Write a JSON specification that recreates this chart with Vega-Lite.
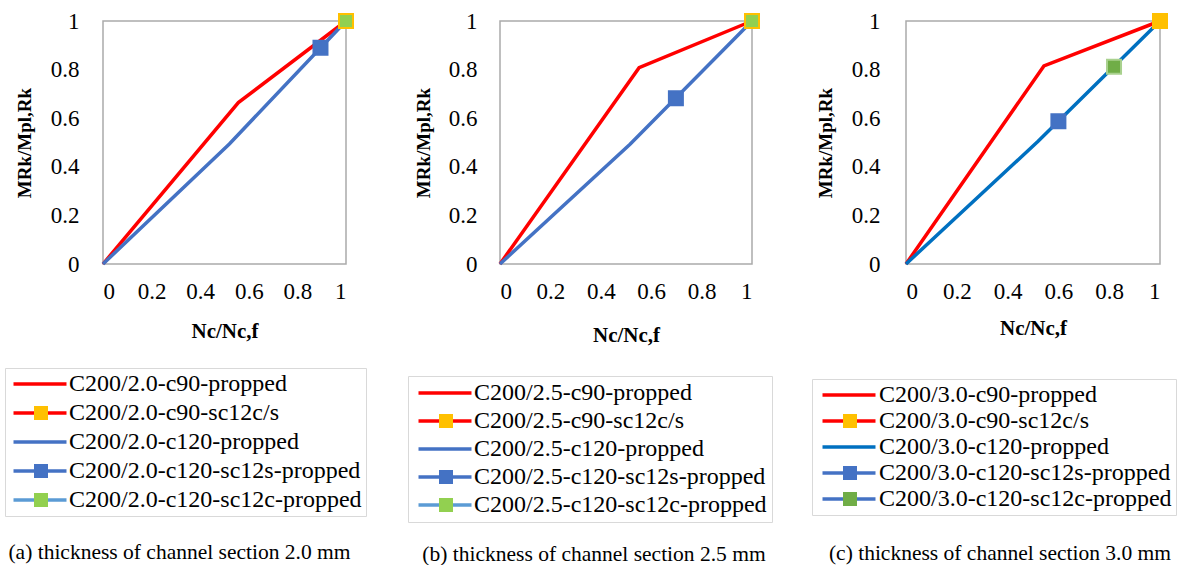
{
  "$schema": "https://vega.github.io/schema/vega-lite/v6.json",
  "background": "white",
  "padding": {"left": 3, "top": 9, "right": 0, "bottom": 0},
  "bounds": "flush",
  "spacing": 154,
  "config": {
    "font": "Liberation Serif",
    "view": {"stroke": "#ABABAB", "strokeWidth": 1.5},
    "axis": {"grid": false, "ticks": false, "domain": false, "labelFont": "Liberation Serif", "labelFontSize": 23, "labelColor": "#000000", "titleFont": "Liberation Serif", "titleColor": "#000000", "titleFontWeight": "bold"},
    "legend": {"orient": "none", "direction": "vertical", "labelFont": "Liberation Serif", "labelFontSize": 24, "labelColor": "#000000", "labelLimit": 600, "padding": 4, "title": null},
    "title": {"font": "Liberation Serif", "fontSize": 21.5, "fontWeight": "normal", "color": "#000000", "orient": "bottom", "anchor": "middle", "frame": "group"}
  },
  "hconcat": [
    {
      "width": 243, "height": 243,
      "title": {"text": "(a) thickness of channel section 2.0 mm", "offset": 25, "dx": -45},
      "data": {"values": [
        {"series": "C200/2.0-c90-propped", "x": 0, "y": 0},
        {"series": "C200/2.0-c90-propped", "x": 0.557, "y": 0.664},
        {"series": "C200/2.0-c90-propped", "x": 1, "y": 1},
        {"series": "C200/2.0-c120-propped", "x": 0, "y": 0},
        {"series": "C200/2.0-c120-propped", "x": 0.52, "y": 0.494},
        {"series": "C200/2.0-c120-propped", "x": 1, "y": 1},
        {"series": "C200/2.0-c90-sc12c/s", "x": 1, "y": 1},
        {"series": "C200/2.0-c120-sc12s-propped", "x": 0.895, "y": 0.89},
        {"series": "C200/2.0-c120-sc12c-propped", "x": 1, "y": 1}
      ]},
      "encoding": {
        "x": {"field": "x", "type": "quantitative", "scale": {"domain": [0, 1], "nice": false}, "axis": {"values": [0, 0.2, 0.4, 0.6, 0.8, 1], "format": "~g", "labelPadding": 16, "titlePadding": 17, "title": "Nc/Nc,f", "titleFontSize": 21}},
        "y": {"field": "y", "type": "quantitative", "scale": {"domain": [0, 1], "nice": false}, "axis": {"values": [0, 0.2, 0.4, 0.6, 0.8, 1], "format": "~g", "labelPadding": 24, "titlePadding": 16, "title": "MRk/Mpl,Rk", "titleFontSize": 19}}
      },
      "layer": [
        {
          "transform": [{"filter": {"field": "series", "oneOf": ["C200/2.0-c90-propped", "C200/2.0-c120-propped"]}}],
          "mark": {"type": "line", "strokeWidth": 3.5},
          "encoding": {
            "color": {"field": "series", "type": "nominal",
              "scale": {"domain": ["C200/2.0-c90-propped", "C200/2.0-c90-sc12c/s", "C200/2.0-c120-propped", "C200/2.0-c120-sc12s-propped", "C200/2.0-c120-sc12c-propped"], "range": ["#FF0000", "#FF0000", "#4472C4", "#4472C4", "#5B9BD5"]},
              "legend": {"legendX": -98, "legendY": 347, "symbolType": "M-3,0H3", "symbolSize": 312, "symbolStrokeWidth": 3.5, "symbolOffset": 19, "labelOffset": 17, "rowPadding": 5, "strokeColor": "#D9D9D9"}}
          }
        },
        {
          "transform": [{"filter": {"field": "series", "oneOf": ["C200/2.0-c90-sc12c/s", "C200/2.0-c120-sc12s-propped", "C200/2.0-c120-sc12c-propped"]}}],
          "mark": {"type": "point", "shape": "square", "filled": true, "size": 196, "opacity": 1, "strokeWidth": 2},
          "encoding": {
            "fill": {"field": "series", "type": "nominal",
              "scale": {"domain": ["C200/2.0-c90-propped", "C200/2.0-c90-sc12c/s", "C200/2.0-c120-propped", "C200/2.0-c120-sc12s-propped", "C200/2.0-c120-sc12c-propped", "~"], "range": ["transparent", "#FFC000", "transparent", "#4472C4", "#92D050", "transparent"]},
              "legend": {"values": ["C200/2.0-c90-propped", "C200/2.0-c90-sc12c/s", "C200/2.0-c120-propped", "C200/2.0-c120-sc12s-propped", "C200/2.0-c120-sc12c-propped"], "legendX": -98, "legendY": 347, "symbolType": "square", "symbolSize": 196, "symbolStrokeWidth": 2, "symbolOffset": 20, "labelExpr": "' '", "labelOpacity": 0, "rowPadding": 5,
                "encode": {"symbols": {"update": {"stroke": {"signal": "datum.value === 'C200/2.0-c90-sc12c/s' ? '#FFC000' : datum.value === 'C200/2.0-c120-sc12s-propped' ? '#4472C4' : datum.value === 'C200/2.0-c120-sc12c-propped' ? '#FFC000' : 'transparent'"}}}}}},
            "stroke": {"field": "series", "type": "nominal", "legend": null,
              "scale": {"domain": ["C200/2.0-c90-sc12c/s", "C200/2.0-c120-sc12s-propped", "C200/2.0-c120-sc12c-propped"], "range": ["#FFC000", "#4472C4", "#FFC000"]}}
          }
        }
      ]
    },
    {
      "width": 252, "height": 243,
      "title": {"text": "(b) thickness of channel section 2.5 mm", "offset": 21, "dx": -32},
      "data": {"values": [
        {"series": "C200/2.5-c90-propped", "x": 0, "y": 0},
        {"series": "C200/2.5-c90-propped", "x": 0.552, "y": 0.808},
        {"series": "C200/2.5-c90-propped", "x": 1, "y": 1},
        {"series": "C200/2.5-c120-propped", "x": 0, "y": 0},
        {"series": "C200/2.5-c120-propped", "x": 0.516, "y": 0.493},
        {"series": "C200/2.5-c120-propped", "x": 1, "y": 1},
        {"series": "C200/2.5-c90-sc12c/s", "x": 1, "y": 1},
        {"series": "C200/2.5-c120-sc12s-propped", "x": 0.698, "y": 0.682},
        {"series": "C200/2.5-c120-sc12c-propped", "x": 1, "y": 1}
      ]},
      "encoding": {
        "x": {"field": "x", "type": "quantitative", "scale": {"domain": [0, 1], "nice": false}, "axis": {"values": [0, 0.2, 0.4, 0.6, 0.8, 1], "format": "~g", "labelPadding": 16, "titlePadding": 21, "title": "Nc/Nc,f", "titleFontSize": 21}},
        "y": {"field": "y", "type": "quantitative", "scale": {"domain": [0, 1], "nice": false}, "axis": {"values": [0, 0.2, 0.4, 0.6, 0.8, 1], "format": "~g", "labelPadding": 23, "titlePadding": 15, "title": "MRk/Mpl,Rk", "titleFontSize": 19}}
      },
      "layer": [
        {
          "transform": [{"filter": {"field": "series", "oneOf": ["C200/2.5-c90-propped", "C200/2.5-c120-propped"]}}],
          "mark": {"type": "line", "strokeWidth": 3.5},
          "encoding": {
            "color": {"field": "series", "type": "nominal",
              "scale": {"domain": ["C200/2.5-c90-propped", "C200/2.5-c90-sc12c/s", "C200/2.5-c120-propped", "C200/2.5-c120-sc12s-propped", "C200/2.5-c120-sc12c-propped"], "range": ["#FF0000", "#FF0000", "#4472C4", "#4472C4", "#5B9BD5"]},
              "legend": {"legendX": -92, "legendY": 355, "symbolType": "M-3,0H3", "symbolSize": 312, "symbolStrokeWidth": 3.5, "symbolOffset": 20, "labelOffset": 17, "rowPadding": 4, "padding": 5, "strokeColor": "#D9D9D9"}}
          }
        },
        {
          "transform": [{"filter": {"field": "series", "oneOf": ["C200/2.5-c90-sc12c/s", "C200/2.5-c120-sc12s-propped", "C200/2.5-c120-sc12c-propped"]}}],
          "mark": {"type": "point", "shape": "square", "filled": true, "size": 196, "opacity": 1, "strokeWidth": 2},
          "encoding": {
            "fill": {"field": "series", "type": "nominal",
              "scale": {"domain": ["C200/2.5-c90-propped", "C200/2.5-c90-sc12c/s", "C200/2.5-c120-propped", "C200/2.5-c120-sc12s-propped", "C200/2.5-c120-sc12c-propped", "~"], "range": ["transparent", "#FFC000", "transparent", "#4472C4", "#92D050", "transparent"]},
              "legend": {"values": ["C200/2.5-c90-propped", "C200/2.5-c90-sc12c/s", "C200/2.5-c120-propped", "C200/2.5-c120-sc12s-propped", "C200/2.5-c120-sc12c-propped"], "legendX": -92, "legendY": 355, "symbolType": "square", "symbolSize": 196, "symbolStrokeWidth": 2, "symbolOffset": 21, "labelExpr": "' '", "labelOpacity": 0, "rowPadding": 4, "padding": 5,
                "encode": {"symbols": {"update": {"stroke": {"signal": "datum.value === 'C200/2.5-c90-sc12c/s' ? '#FFC000' : datum.value === 'C200/2.5-c120-sc12s-propped' ? '#4472C4' : datum.value === 'C200/2.5-c120-sc12c-propped' ? '#FFC000' : 'transparent'"}}}}}},
            "stroke": {"field": "series", "type": "nominal", "legend": null,
              "scale": {"domain": ["C200/2.5-c90-sc12c/s", "C200/2.5-c120-sc12s-propped", "C200/2.5-c120-sc12c-propped"], "range": ["#FFC000", "#4472C4", "#FFC000"]}}
          }
        }
      ]
    },
    {
      "width": 254, "height": 243,
      "title": {"text": "(c) thickness of channel section 3.0 mm", "offset": 27, "dx": -33},
      "data": {"values": [
        {"series": "C200/3.0-c90-propped", "x": 0, "y": 0},
        {"series": "C200/3.0-c90-propped", "x": 0.543, "y": 0.815},
        {"series": "C200/3.0-c90-propped", "x": 1, "y": 1},
        {"series": "C200/3.0-c120-propped", "x": 0, "y": 0},
        {"series": "C200/3.0-c120-propped", "x": 0.52, "y": 0.505},
        {"series": "C200/3.0-c120-propped", "x": 1, "y": 1},
        {"series": "C200/3.0-c90-sc12c/s", "x": 1, "y": 1},
        {"series": "C200/3.0-c120-sc12s-propped", "x": 0.6, "y": 0.587},
        {"series": "C200/3.0-c120-sc12c-propped", "x": 0.819, "y": 0.812}
      ]},
      "encoding": {
        "x": {"field": "x", "type": "quantitative", "scale": {"domain": [0, 1], "nice": false}, "axis": {"values": [0, 0.2, 0.4, 0.6, 0.8, 1], "format": "~g", "labelPadding": 16, "titlePadding": 14, "title": "Nc/Nc,f", "titleFontSize": 21}},
        "y": {"field": "y", "type": "quantitative", "scale": {"domain": [0, 1], "nice": false}, "axis": {"values": [0, 0.2, 0.4, 0.6, 0.8, 1], "format": "~g", "labelPadding": 26, "titlePadding": 16, "title": "MRk/Mpl,Rk", "titleFontSize": 19}}
      },
      "layer": [
        {
          "transform": [{"filter": {"field": "series", "oneOf": ["C200/3.0-c90-propped", "C200/3.0-c120-propped"]}}],
          "mark": {"type": "line", "strokeWidth": 3.5},
          "encoding": {
            "color": {"field": "series", "type": "nominal",
              "scale": {"domain": ["C200/3.0-c90-propped", "C200/3.0-c90-sc12c/s", "C200/3.0-c120-propped", "C200/3.0-c120-sc12s-propped", "C200/3.0-c120-sc12c-propped"], "range": ["#FF0000", "#FF0000", "#0070C0", "#4472C4", "#4472C4"]},
              "legend": {"legendX": -94, "legendY": 358, "symbolType": "M-3,0H3", "symbolSize": 312, "symbolStrokeWidth": 3.5, "symbolOffset": 21, "labelOffset": 18, "rowPadding": 2, "strokeColor": "#D9D9D9"}}
          }
        },
        {
          "transform": [{"filter": {"field": "series", "oneOf": ["C200/3.0-c90-sc12c/s", "C200/3.0-c120-sc12s-propped", "C200/3.0-c120-sc12c-propped"]}}],
          "mark": {"type": "point", "shape": "square", "filled": true, "size": 196, "opacity": 1, "strokeWidth": 2},
          "encoding": {
            "fill": {"field": "series", "type": "nominal",
              "scale": {"domain": ["C200/3.0-c90-propped", "C200/3.0-c90-sc12c/s", "C200/3.0-c120-propped", "C200/3.0-c120-sc12s-propped", "C200/3.0-c120-sc12c-propped", "~"], "range": ["transparent", "#FFC000", "transparent", "#4472C4", "#70AD47", "transparent"]},
              "legend": {"values": ["C200/3.0-c90-propped", "C200/3.0-c90-sc12c/s", "C200/3.0-c120-propped", "C200/3.0-c120-sc12s-propped", "C200/3.0-c120-sc12c-propped"], "legendX": -94, "legendY": 358, "symbolType": "square", "symbolSize": 196, "symbolStrokeWidth": 2, "symbolOffset": 22, "labelExpr": "' '", "labelOpacity": 0, "rowPadding": 2,
                "encode": {"symbols": {"update": {"stroke": {"signal": "datum.value === 'C200/3.0-c90-sc12c/s' ? '#FFC000' : datum.value === 'C200/3.0-c120-sc12s-propped' ? '#4472C4' : datum.value === 'C200/3.0-c120-sc12c-propped' ? '#A9D18E' : 'transparent'"}}}}}},
            "stroke": {"field": "series", "type": "nominal", "legend": null,
              "scale": {"domain": ["C200/3.0-c90-sc12c/s", "C200/3.0-c120-sc12s-propped", "C200/3.0-c120-sc12c-propped"], "range": ["#FFC000", "#4472C4", "#A9D18E"]}}
          }
        }
      ]
    }
  ],
  "resolve": {"scale": {"color": "independent", "fill": "independent", "stroke": "independent"}}
}
